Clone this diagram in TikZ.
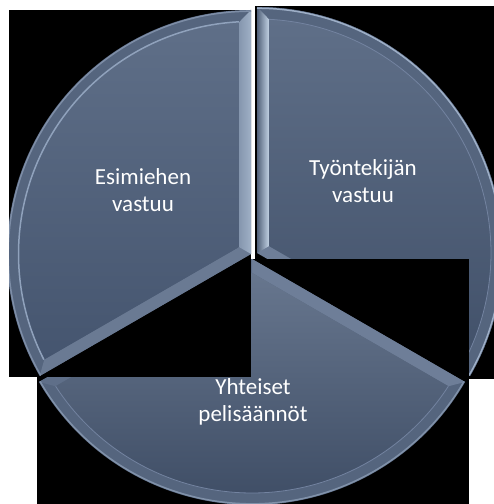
\documentclass[tikz,border=0pt]{standalone}
\usepackage{fontspec}
\setmainfont{Carlito}
\definecolor{bgblack}{HTML}{000000}
\definecolor{faceTop}{HTML}{5F6F88}
\definecolor{faceBot}{HTML}{45556F}
\definecolor{bevArc}{HTML}{55657E}
\definecolor{rim}{HTML}{9DAEC6}
\definecolor{innerRim}{HTML}{7383A0}
\definecolor{innerRimBright}{HTML}{90A2BC}
\definecolor{bevDiagL}{HTML}{6A7A93}
\definecolor{bevDiagR}{HTML}{6E7E98}
\definecolor{bevDiagB}{HTML}{5F6F89}
\definecolor{bevLeftA}{HTML}{8596AE}
\definecolor{bevLeftB}{HTML}{DBE6F2}
\definecolor{bevLeftC}{HTML}{9FB0C6}
\definecolor{bevRightA}{HTML}{52627A}
\definecolor{bevRightB}{HTML}{C2D2E4}
\begin{document}
\begin{tikzpicture}[x=1pt,y=1pt,
  lbl/.style={text=white, align=center, font=\fontsize{23}{27.5}\selectfont, inner sep=0pt},
  boxfill/.style={fill=bgblack},
  face/.style={top color=faceTop, bottom color=faceBot},
  arcband/.style={fill=bevArc},
  rimline/.style={draw=rim, line width=1.5pt},
  innerline/.style={draw=innerRim, line width=0.8pt}]
\useasboundingbox (0,0) rectangle (494,504);
\fill[white] (0,0) rectangle (494,504);

% ---------- right piece (Tyontekijan vastuu) ----------
\fill[boxfill] (255,125) rectangle (494,498);
\begin{scope}
  \clip (255,125) rectangle (494,498);
  \begin{scope}[shift={(257,251)}]
    \fill[bevDiagR] (0,0) -- (-30:246) arc[start angle=-30,end angle=90,radius=246] -- cycle;
    \fill[arcband] (-30:246) arc[start angle=-30,end angle=90,radius=246] -- (87.06:234) arc[start angle=87.06,end angle=-27.06,radius=234] -- cycle;
    \shade[left color=bevRightA, right color=bevRightB] (0,0) -- (90:246) -- (87.06:234) -- (30:13.86) -- cycle;
    \shade[top color=faceTop, bottom color=faceBot!95!black] (30:13.86) -- (87.06:234) arc[start angle=87.06,end angle=-27.06,radius=234] -- cycle;
    \draw[innerline] (87.06:234) arc[start angle=87.06,end angle=-27.06,radius=234];
    \draw[rimline] (-30:244.8) arc[start angle=-30,end angle=90,radius=244.8];
  \end{scope}
\end{scope}

% ---------- bottom piece (Yhteiset pelisaannot) ----------
\fill[boxfill] (37,0) rectangle (469,245);
\begin{scope}
  \clip (37,0) rectangle (469,245);
  \begin{scope}[shift={(252,245)}]
    \fill[bevArc] (0,0) -- (210:246) arc[start angle=210,end angle=330,radius=246] -- cycle;
    \fill[bevDiagR] (0,0) -- (330:246) -- (327.06:234) -- (270:13.86) -- cycle;
    \fill[bevDiagB] (0,0) -- (210:246) -- (212.94:234) -- (270:13.86) -- cycle;
    \shade[top color=faceTop!95!white, bottom color=faceBot!92!black] (270:13.86) -- (212.94:234) arc[start angle=212.94,end angle=327.06,radius=234] -- cycle;
    \draw[innerline] (212.94:234) arc[start angle=212.94,end angle=327.06,radius=234];
    \draw[rimline, draw=rim!60!bevArc] (210:244.8) arc[start angle=210,end angle=330,radius=244.8];
  \end{scope}
\end{scope}

% ---------- left piece (Esimiehen vastuu) ----------
\fill[boxfill] (9,127) rectangle (251,494);
\begin{scope}
  \clip (9,127) rectangle (251,494);
  \begin{scope}[shift={(251,250)}]
    \fill[arcband] (0,0) -- (90:244) arc[start angle=90,end angle=210,radius=244] -- cycle;
    \fill[bevDiagL] (0,0) -- (210:244) -- (207.03:232) -- (150:13.86) -- cycle;
    \shade[left color=bevLeftA, middle color=bevLeftB, right color=bevLeftC] (0,0) -- (90:244) -- (92.97:232) -- (150:13.86) -- cycle;
    \shade[face] (150:13.86) -- (92.97:232) arc[start angle=92.97,end angle=207.03,radius=232] -- cycle;
    \draw[innerline, draw=innerRimBright, line width=1.5pt] (92.97:232.5) arc[start angle=92.97,end angle=207.03,radius=232.5];
    \draw[rimline, draw=rim!55!bevArc] (90:242.8) arc[start angle=90,end angle=210,radius=242.8];
  \end{scope}
\end{scope}

% ---------- labels ----------
\node[lbl] (esimies) at (143,314) {Esimiehen\\vastuu};
\node[lbl] (tyontekija) at (363,323) {Työntekijän\\vastuu};
\node[lbl] (yhteiset) at (253,102) {Yhteiset\\pelisäännöt};
\end{tikzpicture}
\end{document}
